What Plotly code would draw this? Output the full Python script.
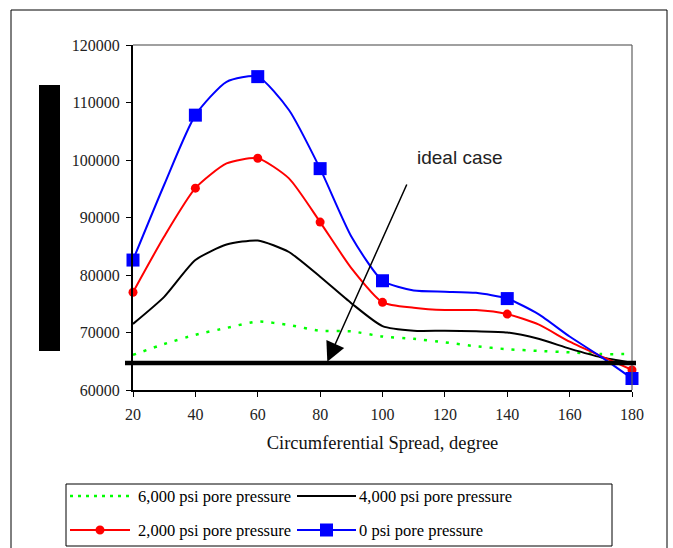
import plotly.graph_objects as go

# ---- data ----
angles = [20, 30, 40, 50, 60, 70, 80, 90, 100, 110, 120, 130, 140, 150, 160, 170, 180]
p6000 = [66100, 68000, 69600, 70800, 71900, 71300, 70300, 70200, 69300, 68900, 68300, 67600, 67100, 66800, 66550, 66250, 66250]
p4000 = [71500, 76200, 82600, 85300, 86000, 84000, 79700, 75100, 71100, 70300, 70300, 70200, 70000, 68900, 67200, 65700, 64750]
p2000 = [77000, 86700, 95100, 99400, 100300, 96800, 89200, 81200, 75250, 74300, 73900, 73900, 73200, 71400, 68400, 65900, 63500]
p0 = [82600, 95700, 107800, 113600, 114500, 108700, 98500, 86700, 79000, 77300, 77100, 76900, 75900, 73200, 69300, 65800, 62000]
marker_angles = [20, 40, 60, 80, 100, 140, 180]
ideal_value = 64700

series_names = ["6,000 psi pore pressure", "4,000 psi pore pressure",
                "2,000 psi pore pressure", "0 psi pore pressure"]
x_ticks = [20, 40, 60, 80, 100, 120, 140, 160, 180]
y_ticks = [60000, 70000, 80000, 90000, 100000, 110000, 120000]

x_title = "Circumferential Spread, degree"
arrow_label = "ideal case"
arrow_tail = (108, 96000)
arrow_head = (82.3, 64900)
label_pos = (110.5, 100350)

SERIF = "Liberation Serif"

# plot-area pixel geometry (for paper-coordinate decorations)
W, H = 673, 548
L, R, T, B = 133, 41, 45, 158
PW, PH = W - L - R, H - T - B


def px(xp):
    return (xp - L) / PW


def py(yp):
    return (H - B - yp) / PH


def pick(vals):
    return [v for a, v in zip(angles, vals) if a in marker_angles]


fig = go.Figure()

styles = [
    dict(color="#00FF00", width=2.5, dash="3px,8px", marker=None),
    dict(color="black", width=2, dash="solid", marker=None),
    dict(color="#FF0000", width=2, dash="solid", marker=dict(symbol="circle", size=9)),
    dict(color="#0000FF", width=2, dash="solid", marker=dict(symbol="square", size=13)),
]
all_series = [p6000, p4000, p2000, p0]

for name, vals, st in zip(series_names, all_series, styles):
    fig.add_trace(go.Scatter(
        x=angles, y=vals, mode="lines", showlegend=False, name=name,
        line=dict(color=st["color"], width=st["width"], dash=st["dash"],
                  shape="spline", smoothing=0.6),
        hoverinfo="skip"))
    if st["marker"] is not None:
        fig.add_trace(go.Scatter(
            x=marker_angles, y=pick(vals), mode="markers", showlegend=False, name=name,
            marker=dict(color=st["color"], line=dict(width=0), **st["marker"]),
            cliponaxis=False))

shapes = [
    # outer frame
    dict(type="rect", xref="paper", yref="paper", x0=px(11), x1=px(667), y0=py(600), y1=py(10),
         line=dict(color="black", width=1), layer="below"),
    # top and right plot borders
    dict(type="line", xref="paper", yref="paper", x0=0, x1=1, y0=1, y1=1,
         line=dict(color="#808080", width=1.5)),
    dict(type="line", xref="paper", yref="paper", x0=1, x1=1, y0=0, y1=1,
         line=dict(color="#606060", width=1.2)),
    # ideal case line
    dict(type="line", xref="paper", yref="y", x0=px(125), x1=px(636), y0=ideal_value, y1=ideal_value,
         line=dict(color="black", width=4.5)),
    # redacted y-axis title block
    dict(type="rect", xref="paper", yref="paper", x0=px(39), x1=px(60), y0=py(351), y1=py(85),
         fillcolor="black", line=dict(width=0)),
    # legend box
    dict(type="rect", xref="paper", yref="paper", x0=px(66), x1=px(612), y0=py(546), y1=py(484),
         fillcolor="white", line=dict(color="black", width=1)),
]

annotations = [
    dict(x=arrow_head[0], y=arrow_head[1], ax=arrow_tail[0], ay=arrow_tail[1],
         xref="x", yref="y", axref="x", ayref="y", text="", showarrow=True,
         arrowhead=2, arrowsize=2.6, arrowwidth=1.5, arrowcolor="black"),
    dict(x=label_pos[0], y=label_pos[1], xref="x", yref="y", text=arrow_label,
         showarrow=False, xanchor="left", yanchor="middle",
         font=dict(family="Liberation Sans", size=19, color="#222")),
]

# manual legend (2 x 2 grid) built from series names and styles
slots = [(70, 130, 136, 496), (297, 356, 357, 496), (70, 130, 136, 530), (297, 356, 357, 530)]
for name, st, (sx0, sx1, tx, ty) in zip(series_names, styles, slots):
    shapes.append(dict(type="line", xref="paper", yref="paper",
                       x0=px(sx0), x1=px(sx1), y0=py(ty), y1=py(ty),
                       line=dict(color=st["color"], width=st["width"],
                                 dash="3px,5px" if st["dash"] != "solid" else "solid")))
    if st["marker"] is not None:
        s = st["marker"]["size"] / 2
        shapes.append(dict(type="circle" if st["marker"]["symbol"] == "circle" else "rect",
                           xref="paper", yref="paper", xsizemode="pixel", ysizemode="pixel",
                           xanchor=px((sx0 + sx1) / 2), yanchor=py(ty),
                           x0=-s, x1=s, y0=-s, y1=s,
                           fillcolor=st["color"], line=dict(width=0)))
    annotations.append(dict(x=px(tx), y=py(ty), xref="paper", yref="paper", text=name,
                            showarrow=False, xanchor="left", yanchor="middle",
                            font=dict(family=SERIF, size=16.5, color="black")))

fig.update_layout(
    width=W, height=H,
    margin=dict(l=L, r=R, t=T, b=B),
    paper_bgcolor="white", plot_bgcolor="white",
    shapes=shapes, annotations=annotations,
    font=dict(family=SERIF, size=16, color="#222"),
    showlegend=False,
    xaxis=dict(range=[20, 180], tickvals=x_ticks, showgrid=False, zeroline=False,
               showline=True, linecolor="black", linewidth=2, ticks="outside",
               ticklen=5, tickcolor="black", tickformat="d", ticklabelstandoff=4,
               tickfont=dict(family=SERIF, size=16, color="#222"),
               title=dict(text=x_title, font=dict(family=SERIF, size=18.5, color="#111"), standoff=14)),
    yaxis=dict(range=[60000, 120000], tickvals=y_ticks, showgrid=False, zeroline=False,
               showline=True, linecolor="black", linewidth=2, ticks="outside",
               ticklen=5, tickcolor="black", tickformat="d", ticklabelstandoff=3,
               tickfont=dict(family=SERIF, size=16, color="#222")),
)

fig.write_html("out.html")
